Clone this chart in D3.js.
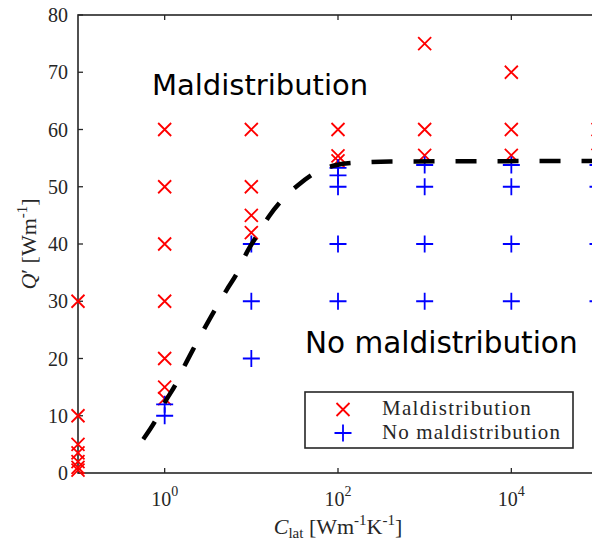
<!DOCTYPE html>
<html>
<head>
<meta charset="utf-8">
<script src="https://cdn.jsdelivr.net/npm/d3@7"></script>
<style>
  html, body { margin: 0; padding: 0; background: #ffffff; }
  svg { display: block; }
</style>
</head>
<body>
<div id="chart"></div>
<script>
// observed cases, [C_lat, Q']
var maldistribution = [
  [0.1, 0.5], [0.1, 1], [0.1, 2], [0.1, 3.5], [0.1, 5], [0.1, 10], [0.1, 30],
  [1, 13], [1, 15], [1, 20], [1, 30], [1, 40], [1, 50], [1, 60],
  [10, 42], [10, 45], [10, 50], [10, 60],
  [100, 54.5], [100, 55.4], [100, 60],
  [1000, 55.5], [1000, 60], [1000, 75],
  [10000, 55.5], [10000, 60], [10000, 70],
  [100000, 55.5], [100000, 60]
];

var noMaldistribution = [
  [1, 10], [1, 12],
  [10, 20], [10, 30], [10, 40],
  [100, 30], [100, 40], [100, 50], [100, 52], [100, 53.3],
  [1000, 30], [1000, 40], [1000, 50], [1000, 53.8],
  [10000, 30], [10000, 40], [10000, 50], [10000, 53.8],
  [100000, 30], [100000, 40], [100000, 50], [100000, 53.8]
];

// dashed boundary
var boundaryC = [0.566, 0.773, 1.01, 1.34, 1.72, 2.2, 5.2, 6.9, 8.85, 11.8, 16.1, 23, 34.8, 54.3, 96.6, 164, 400, 100000];
var boundaryQ = [5.9, 9.0, 12.4, 15.5, 18.9, 22.0, 32.0, 35.0, 38.5, 41.6, 44.9, 47.8, 50.3, 52.4, 53.8, 54.2, 54.4, 54.5];

var xTicks = [1, 100, 10000];
var xTickExp = ["0", "2", "4"];
var yTicks = [0, 10, 20, 30, 40, 50, 60, 70, 80];

(function () {
  var width  = 592;
  var height = 550;
  var left = 78, right = 598, top = 15, bottom = 473;
  var axisColor = "#262626";
  var serif = "'Liberation Serif', 'Times New Roman', serif";
  var sans  = "'DejaVu Sans', Verdana, sans-serif";

  var svg = d3.select("#chart")
    .append("svg")
    .attr("width", width)
    .attr("height", height);

  var x = d3.scaleLog().domain([0.1, 100000]).range([left, right]);
  var y = d3.scaleLinear().domain([0, 80]).range([bottom, top]);

  // axes box with inward ticks
  var axisG = svg.append("g");

  var yTickG = axisG.selectAll("g.ytick")
    .data(yTicks)
    .enter().append("g");
  yTickG.append("line")
    .attr("x1", left).attr("x2", left + 5)
    .attr("y1", function(d){ return y(d); })
    .attr("y2", function(d){ return y(d); })
    .attr("stroke", axisColor).attr("stroke-width", 1.3);
  yTickG.append("line")
    .attr("x1", right).attr("x2", right - 5)
    .attr("y1", function(d){ return y(d); })
    .attr("y2", function(d){ return y(d); })
    .attr("stroke", axisColor).attr("stroke-width", 1.3);
  yTickG.append("text")
    .attr("x", left - 10)
    .attr("y", function(d){ return y(d) + 7; })
    .attr("text-anchor", "end")
    .attr("font-family", serif)
    .attr("font-size", "20px")
    .attr("fill", axisColor)
    .text(function(d){ return d; });

  var xTickG = axisG.selectAll("g.xtick")
    .data(xTicks)
    .enter().append("g");
  xTickG.append("line")
    .attr("x1", function(d){ return x(d); })
    .attr("x2", function(d){ return x(d); })
    .attr("y1", bottom).attr("y2", bottom - 5)
    .attr("stroke", axisColor).attr("stroke-width", 1.3);
  xTickG.append("line")
    .attr("x1", function(d){ return x(d); })
    .attr("x2", function(d){ return x(d); })
    .attr("y1", top).attr("y2", top + 5)
    .attr("stroke", axisColor).attr("stroke-width", 1.3);
  var xLab = xTickG.append("text")
    .attr("x", function(d){ return x(d); })
    .attr("y", bottom + 33)
    .attr("text-anchor", "middle")
    .attr("font-family", serif)
    .attr("font-size", "20px")
    .attr("fill", axisColor);
  xLab.append("tspan").text("10");
  xLab.append("tspan")
    .attr("dy", -10)
    .attr("font-size", "14px")
    .text(function(d, i){ return xTickExp[i]; });

  axisG.append("rect")
    .attr("x", left).attr("y", top)
    .attr("width", right - left).attr("height", bottom - top)
    .attr("fill", "none")
    .attr("stroke", axisColor)
    .attr("stroke-width", 1.6);

  // region labels
  svg.append("text")
    .attr("x", 152).attr("y", 95)
    .attr("font-family", sans).attr("font-size", "29px")
    .attr("fill", "#000")
    .text("Maldistribution");
  svg.append("text")
    .attr("x", 305).attr("y", 353)
    .attr("font-family", sans).attr("font-size", "29.5px")
    .attr("fill", "#000")
    .text("No maldistribution");

  function cross(g, cx, cy, s) {
    g.append("path")
      .attr("d", "M" + (cx - s) + "," + (cy - s) + "L" + (cx + s) + "," + (cy + s) +
                 "M" + (cx - s) + "," + (cy + s) + "L" + (cx + s) + "," + (cy - s))
      .attr("stroke", "#ff0000").attr("stroke-width", 1.8).attr("fill", "none");
  }
  function plus(g, cx, cy, s) {
    g.append("path")
      .attr("d", "M" + (cx - s) + "," + cy + "L" + (cx + s) + "," + cy +
                 "M" + cx + "," + (cy - s) + "L" + cx + "," + (cy + s))
      .attr("stroke", "#0000ff").attr("stroke-width", 1.8).attr("fill", "none");
  }

  var markG = svg.append("g");
  maldistribution.forEach(function(p) { cross(markG, x(p[0]), y(p[1]), 6.5); });
  noMaldistribution.forEach(function(p) { plus(markG, x(p[0]), y(p[1]), 8.5); });

  // boundary curve
  var boundary = boundaryC.map(function(c, i){ return [c, boundaryQ[i]]; });
  var line = d3.line()
    .x(function(d){ return x(d[0]); })
    .y(function(d){ return y(d[1]); })
    .curve(d3.curveMonotoneX);
  svg.append("path")
    .datum(boundary)
    .attr("d", line)
    .attr("fill", "none")
    .attr("stroke", "#000")
    .attr("stroke-width", 4.5)
    .attr("stroke-dasharray", "21,21");

  // legend
  var leg = svg.append("g");
  leg.append("rect")
    .attr("x", 305).attr("y", 392)
    .attr("width", 268).attr("height", 56)
    .attr("fill", "#fff")
    .attr("stroke", axisColor)
    .attr("stroke-width", 1.6);
  cross(leg, 343, 409.5, 6.5);
  plus(leg, 343, 433, 8.5);
  leg.append("text")
    .attr("x", 382).attr("y", 415)
    .attr("font-family", serif).attr("font-size", "21px")
    .attr("letter-spacing", "1.3px")
    .attr("fill", axisColor)
    .text("Maldistribution");
  leg.append("text")
    .attr("x", 382).attr("y", 439)
    .attr("font-family", serif).attr("font-size", "21px")
    .attr("letter-spacing", "1.1px")
    .attr("fill", axisColor)
    .text("No maldistribution");

  // axis titles
  var xt = svg.append("text")
    .attr("x", (left + right) / 2).attr("y", 534)
    .attr("text-anchor", "middle")
    .attr("font-family", serif).attr("font-size", "22px")
    .attr("fill", axisColor);
  xt.append("tspan").attr("font-style", "italic").text("C");
  xt.append("tspan").attr("font-size", "15px").attr("dy", 4).text("lat");
  xt.append("tspan").attr("dy", -4).text("  [Wm");
  xt.append("tspan").attr("font-size", "15px").attr("dy", -9).text("-1");
  xt.append("tspan").attr("dy", 9).text("K");
  xt.append("tspan").attr("font-size", "15px").attr("dy", -9).text("-1");
  xt.append("tspan").attr("dy", 9).text("]");

  var yt = svg.append("text")
    .attr("transform", "translate(36," + ((top + bottom) / 2) + ") rotate(-90)")
    .attr("text-anchor", "middle")
    .attr("font-family", serif).attr("font-size", "22px")
    .attr("fill", axisColor);
  yt.append("tspan").attr("font-style", "italic").text("Q");
  yt.append("tspan").text("′ [Wm");
  yt.append("tspan").attr("font-size", "15px").attr("dy", -9).text("-1");
  yt.append("tspan").attr("dy", 9).text("]");
})();
</script>
</body>
</html>
